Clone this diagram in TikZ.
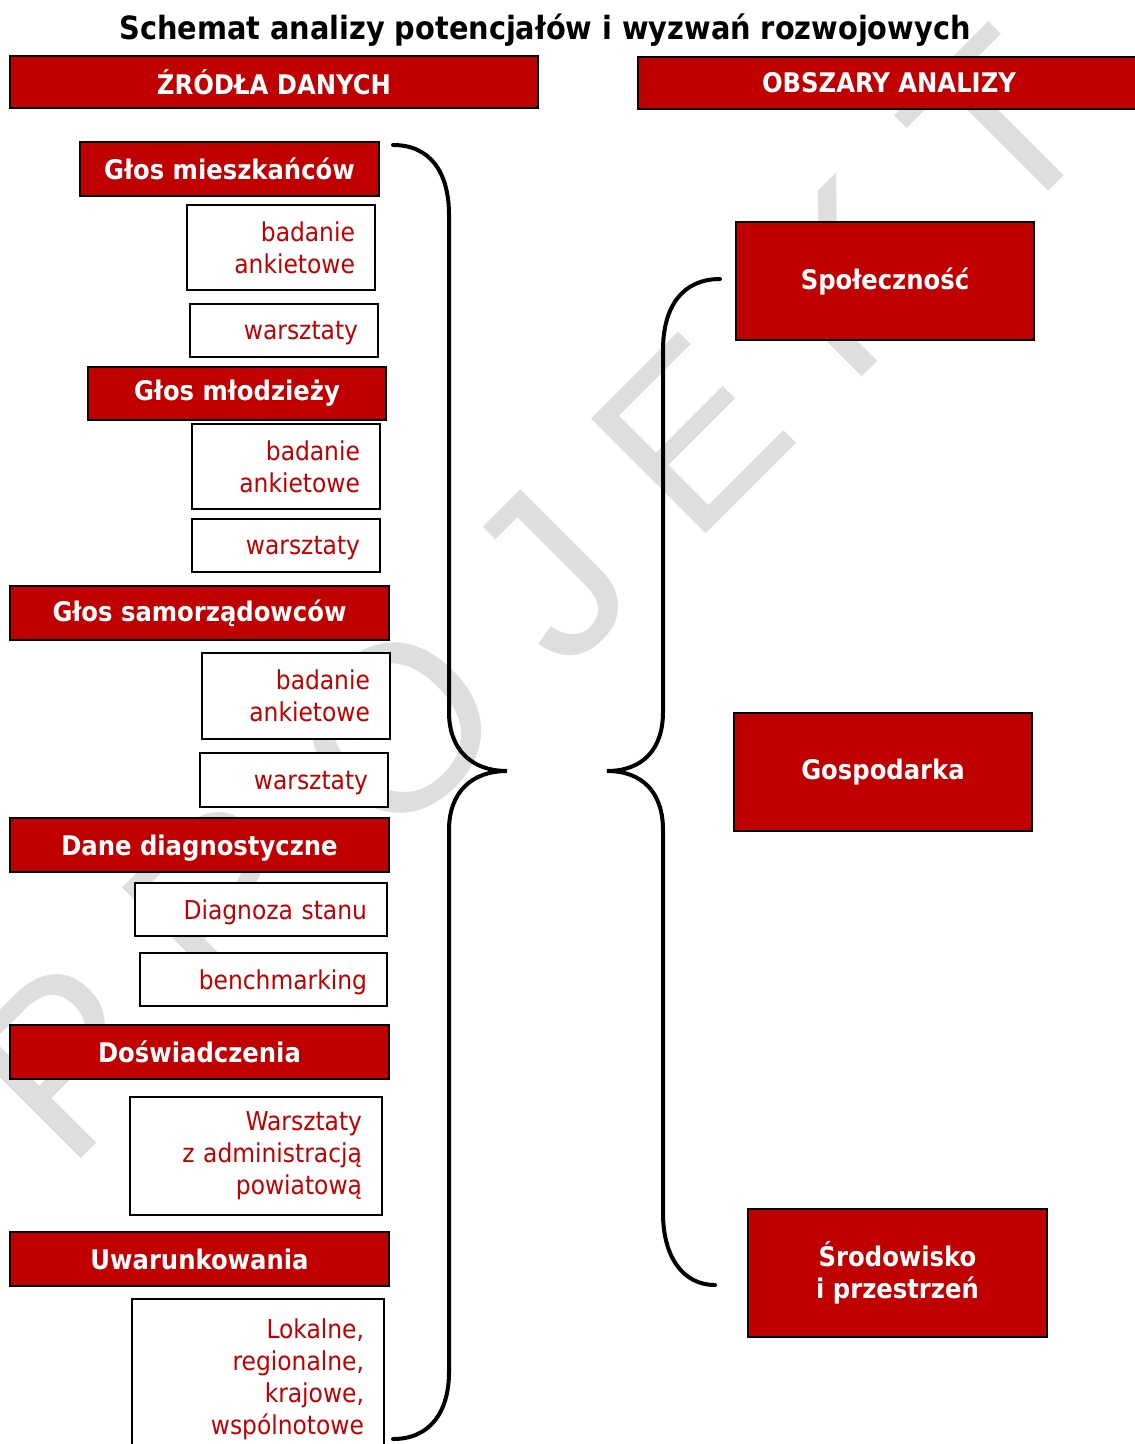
\documentclass[tikz,border=0pt]{standalone}
\usepackage{fontspec}
\setmainfont{DejaVu Sans Condensed}
\newfontfamily\znakfont[LetterSpace=27]{Liberation Sans}
\usetikzlibrary{positioning}
\definecolor{czerwien}{RGB}{192,0,0}
\tikzset{
  naglowek/.style={draw=black, line width=1pt, fill=czerwien, text=white, inner sep=0pt,
    font=\fontsize{13.5}{16}\selectfont\bfseries, align=center},
  opis/.style={draw=black, line width=0.8pt, fill=white, text=czerwien, inner xsep=10pt,
    inner ysep=0pt, font=\fontsize{13}{16}\selectfont, align=right},
  jedna/.style={opis, text depth=0pt},
  klamra/.style={line width=2pt, line cap=round}
}

\begin{document}
\begin{tikzpicture}[x=0.5pt, y=-0.5pt]
\useasboundingbox (0,0) rectangle (1134,1444);
% znak wodny
\node[rotate=45, text=black!13, font=\znakfont\fontsize{118}{118}\selectfont] (znak) at (530,595) {PROJEKT};

\node[font=\fontsize{16}{20}\selectfont\bfseries] (tytul) at (545,30) {Schemat analizy potencjałów i wyzwań rozwojowych};
\node[naglowek, minimum width=264pt, minimum height=26pt] (zrodla) at (274,82) {ŹRÓDŁA DANYCH};
\node[naglowek, minimum width=251pt, minimum height=26pt] (obszary) at (889,83) {OBSZARY ANALIZY};

% zrodla danych
\node[naglowek, minimum width=149.5pt, minimum height=27pt] (glos1) at (229.5,169) {Głos mieszkańców};
\node[opis, text width=74pt, minimum height=42.5pt] (ank1) at (281,247.5) {badanie\\ankietowe};
\node[jedna, text width=74pt, minimum height=26.5pt] (war1) at (284,330.5) {warsztaty};
\node[naglowek, minimum width=149pt, minimum height=26.5pt] (glos2) at (237,393.5) {Głos młodzieży};
\node[opis, text width=74pt, minimum height=42.5pt] (ank2) at (286,466.5) {badanie\\ankietowe};
\node[jedna, text width=74pt, minimum height=26.5pt] (war2) at (286,545.5) {warsztaty};
\node[naglowek, minimum width=189.5pt, minimum height=27pt] (glos3) at (199.5,613) {Głos samorządowców};
\node[opis, text width=74pt, minimum height=43pt] (ank3) at (296,696) {badanie\\ankietowe};
\node[jedna, text width=74pt, minimum height=27pt] (war3) at (294,780) {warsztaty};
\node[naglowek, minimum width=189.5pt, minimum height=27pt, text depth=0pt] (dane) at (199.5,845) {Dane diagnostyczne};
\node[jedna, text width=106pt, minimum height=26.5pt] (diag) at (261,909.5) {Diagnoza stanu};
\node[jedna, text width=103.5pt, minimum height=26.5pt] (bench) at (263.5,979.5) {benchmarking};
\node[naglowek, minimum width=189.5pt, minimum height=27pt] (dosw) at (199.5,1052) {Doświadczenia};
\node[opis, text width=106pt, minimum height=59pt] (wadm) at (256,1156) {Warsztaty\\z administracją\\powiatową};
\node[naglowek, minimum width=189.5pt, minimum height=27pt] (uwar) at (199.5,1259) {Uwarunkowania};
\node[opis, text width=106pt, minimum height=80.5pt] (lok) at (258,1379.5) {Lokalne,\\regionalne,\\krajowe,\\wspólnotowe};

% obszary analizy
\node[naglowek, minimum width=149pt, minimum height=59pt] (spol) at (885,281) {Społeczność};
\node[naglowek, minimum width=149pt, minimum height=59pt] (gosp) at (883,772) {Gospodarka};
\node[naglowek, minimum width=149.5pt, minimum height=64pt] (srod) at (897.5,1273) {Środowisko\\i przestrzeń};

% klamry
\coordinate (lgora) at (393,145);
\coordinate (ldol) at (393,1439);
\coordinate (lszpic) at (507,771);
\coordinate (pgora) at (720,279);
\coordinate (pdol) at (715,1285);
\coordinate (pszpic) at (607,771);
\draw[klamra] (lgora) .. controls (430,145) and (449,172) .. (449,215) -- (449,712)
  .. controls (449,750) and (472,771) .. (lszpic)
  .. controls (472,771) and (449,792) .. (449,830) -- (449,1372)
  .. controls (449,1412) and (430,1439) .. (ldol);
\draw[klamra] (pgora) .. controls (683,279) and (663,306) .. (663,350) -- (663,712)
  .. controls (663,750) and (642,771) .. (pszpic)
  .. controls (642,771) and (663,792) .. (663,830) -- (663,1213)
  .. controls (663,1257) and (683,1285) .. (pdol);
\end{tikzpicture}
\end{document}
